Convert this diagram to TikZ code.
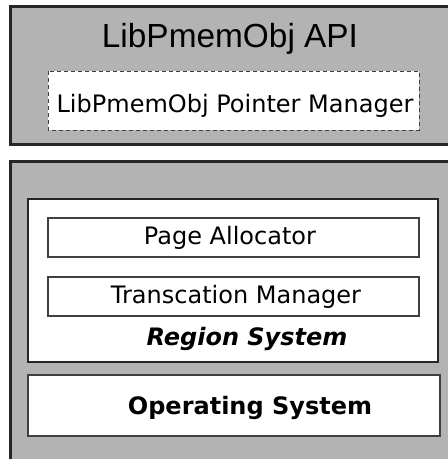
\documentclass[tikz,border=0pt]{standalone}
\usepackage{fontspec}
\setmainfont{DejaVu Sans}
\newfontfamily\titlefont{Liberation Sans}
\definecolor{panelgray}{HTML}{B3B3B3}
\definecolor{edgedark}{HTML}{262626}
\definecolor{edgemid}{HTML}{404040}
\begin{document}
\begin{tikzpicture}[x=1pt,y=-1pt,
  panel/.style={draw=edgedark,fill=panelgray,line width=3pt},
  groupbox/.style={draw=edgedark,fill=white,line width=2.5pt},
  modbox/.style={draw=edgemid,fill=white,line width=1.4pt},
  dashbox/.style={draw=edgemid,fill=white,line width=1pt,dash pattern=on 4pt off 3pt},
  label/.style={anchor=base,inner sep=0pt,font=\fontsize{24}{28}\selectfont},
  title/.style={anchor=base,inner sep=0pt,font=\titlefont\fontsize{33.4}{38}\selectfont}]
\useasboundingbox (0,0) rectangle (448,459);
\fill[white] (0,0) rectangle (448,459);

% API layer
\draw[panel] (10,6) rectangle (462,144);
\node[title] (api) at (230,47) {LibPmemObj API};
\draw[dashbox] (48,71) rectangle (419,130);
\node[label] (ptr) at (235,112) {LibPmemObj Pointer Manager};

% lower stack
\draw[panel] (10,161) rectangle (462,475);
\draw[groupbox] (28,199) rectangle (438,362);
\draw[modbox] (48,218) rectangle (419,257);
\node[label] (alloc) at (230,244) {Page Allocator};
\draw[modbox] (48,277) rectangle (419,316);
\node[label] (tx) at (236,303) {Transcation Manager};
\node[label,font=\fontsize{24}{28}\selectfont\bfseries\itshape] (region) at (247,345) {Region System};
\draw[modbox,line width=2pt] (28,375) rectangle (440,436);
\node[label,font=\fontsize{24}{28}\selectfont\bfseries] (os) at (250,414) {Operating System};
\end{tikzpicture}
\end{document}
